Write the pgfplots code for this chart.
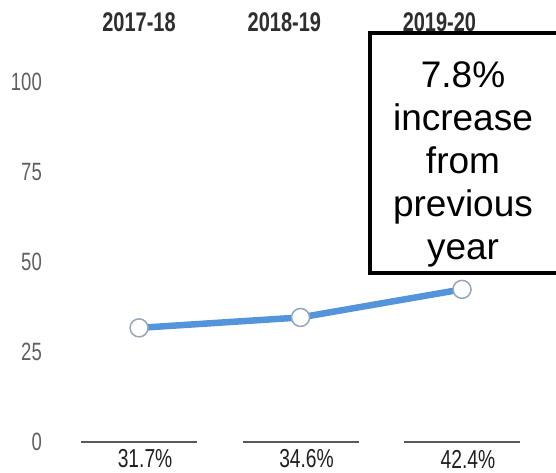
\documentclass[border=0pt]{standalone}
\usepackage{pgfplots}
\pgfplotsset{compat=1.18}
\usepackage{fontspec}
\setmainfont{Liberation Sans}
\newfontfamily\narrow[FakeStretch=0.74]{Liberation Sans}

\definecolor{lineblue}{RGB}{84,148,218}
\definecolor{tickgray}{RGB}{95,95,95}
\definecolor{markgray}{RGB}{150,165,185}

\begin{document}
\begin{tikzpicture}
\begin{axis}[
    scale only axis,
    width=556pt, height=473pt,
    xmin=-0.861, xmax=2.582,
    ymin=-8.61, ymax=122.78,
    axis line style={draw=none},
    major tick length=0pt,
    xtick={0,0.9,1.86},
    xticklabels={2017-18,2018-19,2019-20},
    xticklabel pos=right,
    xticklabel style={anchor=center, yshift=-22.5pt, inner sep=0pt,
        font=\narrow\bfseries\fontsize{27}{27}\selectfont, text=black!82},
    ytick={0,25,50,75,100},
    yticklabel style={anchor=east, xshift=42pt, inner sep=0pt,
        font=\narrow\fontsize{25}{25}\selectfont, text=tickgray},
    /pgf/number format/assume math mode=true,
    clip=false,
]

% short rules at zero with the yearly values under them
\addplot[only marks, mark=-, mark size=58pt,
    mark options={draw=black!65, line width=1.8pt},
    point meta=explicit symbolic, nodes near coords,
    every node near coord/.append style={anchor=center, yshift=-17pt, xshift=6pt,
        inner sep=0pt, font=\narrow\fontsize{26}{26}\selectfont, text=black!88}]
    coordinates {(0,0)[31.7\%] (1,0)[34.6\%] (2,0)[42.4\%]};

\addplot[lineblue, line width=6.5pt, line join=round,
    mark=*, mark size=9pt,
    mark options={fill=white, draw=markgray, line width=1.5pt}]
    coordinates {(0,31.7)(1,34.6)(2,42.4)};

\draw[line width=4pt, fill=white] (axis cs:1.430,46.9) rectangle (axis cs:2.65,113.6);
\node[anchor=north, align=center, inner sep=0pt, font=\fontsize{37}{43}\selectfont]
    at (axis cs:2.006,105.6) {7.8\%\\increase\\from\\previous\\year};

\coordinate (sw) at (rel axis cs:0,0);
\coordinate (ne) at (rel axis cs:1,1);
\end{axis}
\pgfresetboundingbox
\path[use as bounding box] (sw) rectangle (ne);
\end{tikzpicture}
\end{document}
